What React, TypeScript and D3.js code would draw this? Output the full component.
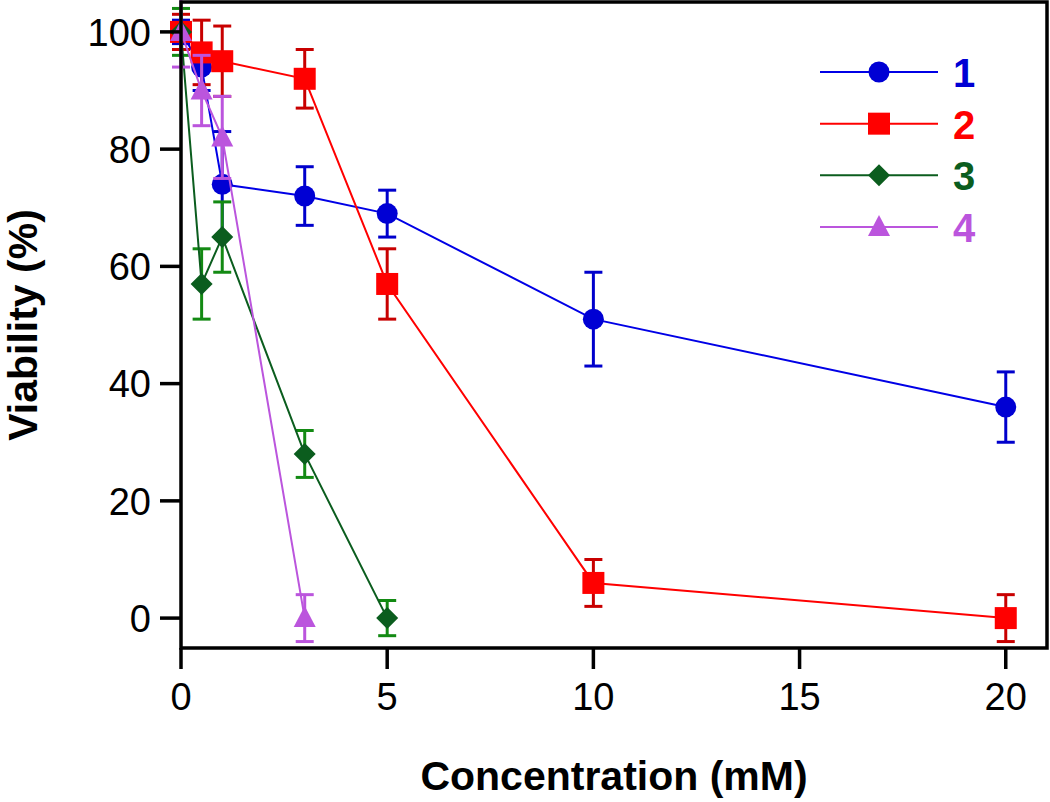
import React from 'react';
import * as d3 from 'd3';

// concentration (mM) and viability (%) per compound
const conc1 = [0, 0.5, 1, 3, 5, 10, 20];
const viab1 = [100, 94, 74, 72, 69, 51, 36];
const err1 = [2, 4, 9, 5, 4, 8, 6];

const conc2 = [0, 0.5, 1, 3, 5, 10, 20];
const viab2 = [100, 96.5, 95, 92, 57, 6, 0];
const err2 = [3, 5.5, 6, 5, 6, 4, 4];

const conc3 = [0, 0.5, 1, 3, 5];
const viab3 = [100, 57, 65, 28, 0];
const err3 = [4, 6, 6, 4, 3];

const conc4 = [0, 0.5, 1, 3];
const viab4 = [100, 90, 82, 0];
const err4 = [6, 6, 7, 4];

const seriesNames = ['1', '2', '3', '4'];
const xTicks = [0, 5, 10, 15, 20];
const yTicks = [0, 20, 40, 60, 80, 100];

const series = [
  { name: seriesNames[0], x: conc1, y: viab1, e: err1, shape: 'circle', line: '#0000e6', fill: '#0000d4', bar: '#0000cc' },
  { name: seriesNames[1], x: conc2, y: viab2, e: err2, shape: 'square', line: '#ff0000', fill: '#ff0000', bar: '#c80000' },
  { name: seriesNames[2], x: conc3, y: viab3, e: err3, shape: 'diamond', line: '#0b5d1e', fill: '#0b5d1e', bar: '#138a13' },
  { name: seriesNames[3], x: conc4, y: viab4, e: err4, shape: 'triangle', line: '#bb55dd', fill: '#bb55dd', bar: '#bb55dd' },
];

const left = 181;
const right = 1047;
const top = 2;
const bottom = 648;

const font = 'Arial, "Liberation Sans", Helvetica, sans-serif';

const marker = (shape: string, cx: number, cy: number, fill: string, key?: string | number) => {
  if (shape === 'circle') return <circle key={key} cx={cx} cy={cy} r={10.5} fill={fill} />;
  if (shape === 'square') return <rect key={key} x={cx - 11} y={cy - 11} width={22} height={22} fill={fill} />;
  if (shape === 'diamond') {
    const d = `M${cx},${cy - 11}L${cx + 11},${cy}L${cx},${cy + 11}L${cx - 11},${cy}Z`;
    return <path key={key} d={d} fill={fill} />;
  }
  const d = `M${cx},${cy - 12}L${cx + 11},${cy + 9}L${cx - 11},${cy + 9}Z`;
  return <path key={key} d={d} fill={fill} />;
};

const App = () => {
  const x = d3.scaleLinear().domain([0, 21]).range([left, right]);
  const y = d3.scaleLinear().domain([-5.1, 105.1]).range([bottom, top]);

  const lineGen = d3.line<[number, number]>()
    .x(d => x(d[0]))
    .y(d => y(d[1]));

  const legendY = d3.scalePoint<string>().domain(seriesNames).range([72, 227]);

  return (
    <svg width={1050} height={802} style={{ display: 'block', position: 'absolute', left: 0, top: 0 }}>
      <rect width={1050} height={802} fill="#fff" />

      {series.map(s => {
        const pts = s.x.map((v, i) => [v, s.y[i]] as [number, number]);
        return (
          <g key={s.name}>
            {pts.map((p, i) => {
              const px = x(p[0]);
              const y1 = y(p[1] + s.e[i]);
              const y2 = y(p[1] - s.e[i]);
              return (
                <g key={i} stroke={s.bar} strokeWidth={3} fill="none">
                  <line x1={px} x2={px} y1={y1} y2={y2} />
                  <line x1={px - 9} x2={px + 9} y1={y1} y2={y1} />
                  <line x1={px - 9} x2={px + 9} y1={y2} y2={y2} />
                </g>
              );
            })}
            <path d={lineGen(pts) || ''} fill="none" stroke={s.line} strokeWidth={2} />
            {pts.map((p, i) => marker(s.shape, x(p[0]), y(p[1]), s.fill, i))}
          </g>
        );
      })}

      {/* frame */}
      <rect x={left} y={top} width={right - left} height={bottom - top} fill="none" stroke="#000" strokeWidth={3.5} />

      {/* y axis */}
      {yTicks.map(t => (
        <g key={t}>
          <line x1={left - 21} x2={left} y1={y(t)} y2={y(t)} stroke="#000" strokeWidth={3.5} />
          <text x={left - 30} y={y(t)} dy="0.36em" textAnchor="end" fontFamily={font} fontSize={38}>{t}</text>
        </g>
      ))}

      {/* x axis */}
      {xTicks.map(t => (
        <g key={t}>
          <line x1={x(t)} x2={x(t)} y1={bottom} y2={bottom + 21} stroke="#000" strokeWidth={3.5} />
          <text x={x(t)} y={710} textAnchor="middle" fontFamily={font} fontSize={38}>{t}</text>
        </g>
      ))}

      <text x={(left + right) / 2} y={790} textAnchor="middle" fontFamily={font} fontSize={41} fontWeight="bold">
        Concentration (mM)
      </text>
      <text
        transform={`translate(37,${(top + bottom) / 2}) rotate(-90)`}
        textAnchor="middle"
        fontFamily={font}
        fontSize={41}
        fontWeight="bold"
      >
        Viability (%)
      </text>

      {/* legend */}
      {series.map(s => {
        const ly = legendY(s.name) as number;
        return (
          <g key={s.name}>
            <line x1={820} x2={938} y1={ly} y2={ly} stroke={s.line} strokeWidth={2} />
            {marker(s.shape, 879, ly, s.fill)}
            <text x={953} y={ly + 15} fontFamily={font} fontSize={40} fontWeight="bold" fill={s.fill}>{s.name}</text>
          </g>
        );
      })}
    </svg>
  );
};

export default App;
